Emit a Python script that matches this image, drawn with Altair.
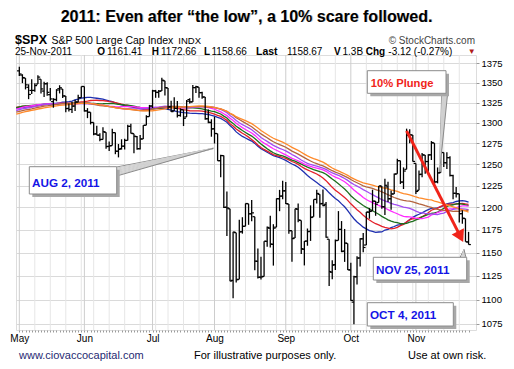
import altair as alt
import pandas as pd

# ---------------- data ----------------
# S&P 500 daily OHLC, 2 May 2011 .. 25 Nov 2011 (trading days)
opens = [1365.2,1359.8,1355.9,1344.2,1340.2,1340.2,1348.3,1354.5,1339.4,1348.7,1334.8,1326.1,1328.5,1342.4,1342.0,1333.1,1317.7,1316.4,1320.6,1325.7,1331.1,
         1345.2,1314.6,1312.9,1300.3,1286.3,1284.6,1279.6,1288.3,1271.3,1272.2,1287.9,1265.5,1268.6,1271.5,1278.4,1295.5,1286.6,1283.0,1268.4,1280.2,1296.9,1307.6,
         1320.6,1339.6,1337.6,1339.6,1352.4,1343.3,1319.6,1314.5,1317.7,1308.9,1315.9,1307.1,1328.7,1325.7,1343.8,1344.3,1337.4,1331.9,1304.8,1300.1,
         1292.6,1286.6,1254.3,1260.2,1200.3,1198.5,1120.2,1171.8,1121.3,1172.9,1178.9,1204.2,1192.9,1189.6,1140.5,1123.6,1124.4,1162.2,1176.7,1158.9,1177.9,1209.8,1213.0,
         1219.1,1203.9,1174.0,1165.9,1198.0,1185.4,1153.5,1162.6,1173.3,1189.4,1209.2,1215.0,1204.5,1203.6,1164.6,1128.8,1136.9,1163.3,1175.4,1151.7,1159.9,
         1131.2,1097.4,1124.0,1144.1,1165.0,1158.2,1194.6,1196.2,1207.0,1205.7,1224.5,1200.8,1223.5,1209.9,1215.4,1238.7,1254.2,1229.2,1244.0,1284.4,1285.0,
         1251.0,1219.6,1238.3,1260.8,1253.2,1261.1,1275.2,1229.6,1240.1,1263.9,1251.7,1257.8,1236.6,1216.2,1215.6,1193.0,1187.5,1161.4]
highs = [1370.6,1360.8,1355.9,1348.0,1354.4,1349.4,1359.4,1354.5,1351.1,1350.5,1343.3,1330.4,1341.8,1346.8,1342.0,1333.1,1323.7,1325.9,1328.5,1334.6,1345.2,
         1345.2,1318.0,1312.9,1300.3,1296.2,1287.0,1294.5,1288.3,1277.0,1292.5,1287.9,1274.1,1279.8,1280.4,1297.6,1298.6,1286.6,1283.9,1284.9,1296.8,1309.2,1322.0,
         1341.0,1340.9,1340.9,1356.5,1352.4,1343.3,1327.2,1331.5,1326.9,1317.7,1315.9,1328.1,1330.4,1347.0,1346.1,1344.3,1338.5,1331.9,1316.3,1304.2,
         1307.4,1286.6,1261.2,1260.2,1218.1,1198.5,1172.9,1171.8,1186.3,1189.0,1204.5,1204.2,1208.5,1189.6,1154.5,1145.5,1162.4,1178.6,1190.7,1181.2,1210.3,1220.1,1230.7,
         1229.3,1203.9,1174.0,1198.6,1204.4,1185.4,1162.5,1176.4,1202.4,1209.1,1220.1,1215.0,1220.4,1206.3,1164.6,1141.7,1164.2,1195.9,1184.7,1175.9,1159.9,
         1139.0,1125.1,1146.1,1165.6,1171.4,1194.9,1199.2,1220.3,1207.5,1224.6,1224.5,1233.1,1229.6,1219.4,1239.0,1256.6,1254.2,1246.3,1292.7,1292.0,1285.0,
         1251.0,1242.5,1263.2,1260.8,1261.7,1277.6,1275.2,1246.2,1267.0,1263.9,1264.3,1259.6,1237.7,1223.5,1215.6,1196.8,1187.5,1172.7]
lows = [1358.6,1349.5,1341.5,1329.2,1335.6,1338.6,1348.3,1336.4,1332.0,1333.4,1327.3,1318.5,1326.6,1336.4,1330.7,1312.9,1313.9,1311.8,1314.4,1325.7,1331.1,
        1313.7,1305.6,1297.9,1284.7,1284.7,1277.4,1279.6,1268.3,1265.6,1272.2,1261.9,1258.1,1267.4,1267.6,1278.4,1286.8,1262.9,1267.2,1267.5,1280.2,1296.9,1307.6,
        1318.2,1330.9,1330.9,1339.6,1333.7,1316.4,1313.3,1314.5,1306.5,1307.4,1295.9,1307.1,1323.7,1325.7,1337.0,1331.1,1329.6,1303.5,1299.2,1282.9,
        1274.7,1254.0,1234.6,1199.5,1168.1,1119.3,1101.5,1118.0,1121.3,1170.7,1178.9,1180.5,1184.4,1131.0,1122.1,1121.1,1124.4,1156.3,1155.5,1135.9,1177.9,1195.8,1209.4,
        1203.9,1170.6,1140.1,1165.9,1183.3,1148.4,1136.1,1157.4,1162.7,1189.4,1204.5,1188.4,1201.3,1166.2,1114.2,1121.4,1131.1,1163.3,1150.4,1139.9,1131.3,
        1098.9,1074.8,1115.7,1135.0,1150.3,1158.2,1187.3,1196.2,1190.6,1205.7,1198.6,1191.5,1206.3,1197.3,1215.4,1238.7,1226.8,1221.1,1244.0,1275.0,1253.2,
        1215.4,1219.6,1234.8,1238.9,1240.8,1255.0,1226.6,1227.7,1240.1,1246.7,1244.3,1235.7,1209.4,1211.4,1183.2,1181.7,1161.8,1158.7]
closes = [1361.2,1356.6,1347.3,1335.1,1340.2,1346.3,1357.2,1342.1,1348.7,1337.8,1329.5,1329.0,1340.7,1343.6,1333.3,1317.4,1316.3,1320.5,1325.7,1331.1,1345.2,
          1314.6,1312.9,1300.2,1286.2,1284.9,1279.6,1289.0,1271.0,1271.8,1287.9,1265.4,1267.6,1271.5,1278.4,1295.5,1287.1,1283.5,1268.5,1280.1,1296.7,1307.4,1320.6,
          1339.7,1337.9,1339.2,1353.2,1343.8,1319.5,1313.6,1317.7,1308.9,1316.1,1305.4,1326.7,1325.8,1343.8,1345.0,1337.4,1331.9,1304.9,1300.7,1292.3,
          1286.9,1254.1,1260.3,1200.1,1199.4,1119.5,1172.5,1120.8,1172.6,1178.8,1204.5,1192.8,1193.9,1140.7,1123.5,1123.8,1162.4,1177.6,1159.3,1176.8,1210.1,1212.9,1218.9,
          1204.4,1174.0,1165.2,1198.6,1185.9,1154.2,1162.3,1172.9,1188.7,1209.1,1216.0,1204.1,1202.1,1166.8,1129.6,1136.4,1163.0,1175.4,1151.1,1160.4,1131.4,
          1099.2,1124.0,1144.0,1165.0,1155.5,1194.9,1195.5,1207.3,1203.7,1224.6,1200.9,1225.4,1209.9,1215.4,1238.3,1254.2,1229.1,1242.0,1284.6,1285.1,1253.3,
          1218.3,1237.9,1261.2,1253.2,1261.1,1275.9,1229.1,1239.7,1263.9,1251.8,1257.8,1236.9,1216.1,1215.7,1193.0,1188.0,1161.8,1158.7]
# closes Jan-Apr 2011, only used to seed the moving averages
prior_closes = [1271.9,1270.2,1276.6,1273.9,1271.5,1269.8,1274.5,1286.0,1283.8,1293.2,1295.0,1281.9,1280.3,1283.4,1290.8,1291.2,1296.6,1299.5,1276.3,1286.1,
                1307.6,1304.0,1307.1,1310.9,1319.1,1324.6,1320.9,1321.9,1329.2,1332.3,1328.0,1336.3,1340.4,1343.0,1315.4,1307.4,1306.1,1319.9,1327.2,
                1306.3,1308.4,1331.0,1321.2,1310.1,1321.8,1320.0,1295.1,1304.3,1296.4,1281.9,1256.9,1273.7,1279.2,1298.4,1293.8,1297.5,1309.7,1313.8,1310.2,1319.4,1328.3,1325.8,
                1332.4,1332.9,1332.6,1335.5,1333.5,1328.2,1324.5,1314.2,1314.4,1314.5,1319.7,1305.1,1312.6,1330.4,1337.4,1335.3,1347.2,1355.7,1360.5,1363.6]
ma_lengths = [50, 55, 60, 65, 70, 75, 80]
ma_colors = ["#1f2fb0", "#e3202a", "#1d6e1d", "#ff2bff", "#a24cf2", "#b4643e", "#ff8a2a"]
y_ticks = [1075, 1100, 1125, 1150, 1175, 1200, 1225, 1250, 1275, 1300, 1325, 1350, 1375]
arrow_start = (125, 1290.0)
arrow_head = (142.4, 1167.4)

holidays = {"2011-05-30", "2011-07-04", "2011-09-05", "2011-11-24"}
dates = [d for d in pd.bdate_range("2011-05-02", "2011-11-25") if d.strftime("%Y-%m-%d") not in holidays]
n = len(closes)
dates = dates[:n]

month_idx, month_names, week_idx = [], [], []
for i, d in enumerate(dates):
    if i == 0 or d.month != dates[i - 1].month:
        month_idx.append(i)
        month_names.append(d.strftime("%b"))
    elif d.weekday() <= dates[i - 1].weekday():
        week_idx.append(i)

bars = pd.DataFrame({"idx": list(range(n)), "open": opens, "high": highs, "low": lows, "close": closes})
allc = prior_closes + closes
ma_df = pd.DataFrame({"idx": list(range(-len(prior_closes), n)), "close": allc})

# ---------------- scales / axes ----------------
W, H = 460, 275
xscale = alt.Scale(domain=[-1.07, 147.4], nice=False, zero=False)
yscale = alt.Scale(type="log", domain=[1068.9, 1385.8], nice=False, zero=False)
FONT = "Liberation Sans"
label_expr = f"indexof({month_idx}, datum.value) >= 0 ? {month_names}[indexof({month_idx}, datum.value)] : ''"
xaxis = alt.Axis(values=list(range(n)), labelExpr=label_expr, tickSize=2, tickColor="#9a9a9a",
                 grid=False, domain=False, labelFont=FONT, labelFontSize=10, labelColor="black",
                 labelPadding=1, labelOverlap=False, labelFlush=False, title=None)
yaxis = alt.Axis(orient="right", values=y_ticks, grid=True, gridColor="#dadada", tickSize=3,
                 tickColor="#9a9a9a", domain=False, labelFont=FONT, labelFontSize=9.5,
                 labelColor="black", labelPadding=2, format="d", title=None)

X = lambda f: alt.X(f, type="quantitative", scale=xscale, axis=xaxis)
Y = lambda f: alt.Y(f, type="quantitative", scale=yscale, axis=yaxis)

base_axes = alt.Chart(bars).mark_point(opacity=0, size=1).encode(x=X("idx"), y=Y("close"))
week_grid = alt.Chart(pd.DataFrame({"idx": week_idx})).mark_rule(color="#e6e6e6", strokeWidth=1).encode(x=X("idx"))
month_grid = alt.Chart(pd.DataFrame({"idx": month_idx})).mark_rule(color="#cdcdcd", strokeWidth=1).encode(x=X("idx"))

ma_names = [f"ma{L}" for L in ma_lengths]
ma_chart = alt.Chart(ma_df)
for L in ma_lengths:
    ma_chart = ma_chart.transform_window(**{f"ma{L}": "mean(close)"}, frame=[-(L - 1), 0],
                                         sort=[alt.SortField("idx")])
ma_lines = ma_chart.transform_filter(alt.datum.idx >= -1).transform_fold(
    ma_names, as_=["ma", "value"]).mark_line(strokeWidth=1.3, clip=True).encode(
    x=X("idx"), y=Y("value"),
    color=alt.Color("ma:N", scale=alt.Scale(domain=ma_names, range=ma_colors), legend=None))

hl = alt.Chart(bars).mark_rule(color="black", strokeWidth=1.3).encode(
    x=X("idx"), y=Y("low"), y2="high")
op = alt.Chart(bars).mark_rule(color="black", strokeWidth=1.2, xOffset=-2.3, x2Offset=0).encode(
    x=X("idx"), x2="idx", y=Y("open"))
cl = alt.Chart(bars).mark_rule(color="black", strokeWidth=1.2, xOffset=0, x2Offset=2.3).encode(
    x=X("idx"), x2="idx", y=Y("close"))

arrow_df = pd.DataFrame({"x": [arrow_start[0]], "y": [arrow_start[1]], "x2": [arrow_head[0]], "y2": [arrow_head[1]]})
arrow = alt.Chart(arrow_df).mark_rule(color="#f0241a", strokeWidth=3).encode(
    x=X("x"), y=Y("y"), x2="x2", y2="y2")
head = alt.Chart(arrow_df).mark_point(shape="triangle-down", filled=True, size=190, color="#f0241a",
                                      opacity=1, angle=333).encode(x=X("x2"), y=Y("y2"))

one = pd.DataFrame({"a": [0]})
OX, OY = 16, 55  # plot origin in page px


def txt(s, x, y, size, bold=False, color="black", align="left", font=FONT):
    # y is the text baseline in page px
    return alt.Chart(one).mark_text(text=s, align=align, baseline="alphabetic", fontSize=size,
                                    fontWeight="bold" if bold else "normal", color=color, font=font).encode(
        x=alt.value(x - OX), y=alt.value(y - OY))


def box(x1, y1, x2, y2):
    sh = alt.Chart(one).mark_rect(color="#a8a8a8").encode(
        x=alt.value(x1 - OX + 3), x2=alt.value(x2 - OX + 3), y=alt.value(y1 - OY + 3), y2=alt.value(y2 - OY + 3))
    bx = alt.Chart(one).mark_rect(fill="white", stroke="#8c8c8c", strokeWidth=1).encode(
        x=alt.value(x1 - OX), x2=alt.value(x2 - OX), y=alt.value(y1 - OY), y2=alt.value(y2 - OY))
    return [sh, bx]


def wedge(b1, b2, tip, steps=8):
    layers = []
    for k in range(steps + 1):
        t = k / steps
        bx = b1[0] + (b2[0] - b1[0]) * t
        by = b1[1] + (b2[1] - b1[1]) * t
        edge = k in (0, steps)
        layers.append(alt.Chart(one).mark_rule(color="#8a8a8a" if edge else "#d0d0d0",
                                               strokeWidth=1 if edge else 1.2).encode(
            x=alt.value(bx - OX), y=alt.value(by - OY), x2=alt.value(tip[0] - OX), y2=alt.value(tip[1] - OY)))
    return layers


BLUE = "#1414e6"
ann = []
ann += wedge((441.7, 93), (447.7, 93), (439.5, 172))
ann += box(367.3, 70.7, 446, 93.3)
ann.append(txt("10% Plunge", 370.7, 87.3, 11.2, True, "#f0241a"))
ann += wedge((116.7, 167), (116.7, 176), (213.3, 148.3))
ann += box(29.3, 166.7, 116.7, 194)
ann.append(txt("AUG 2, 2011", 32, 186.8, 11.7, True, BLUE))
ann += wedge((460, 257.5), (466, 257.5), (464, 249.5), steps=4)
ann += box(373.3, 257.3, 466.7, 280)
ann.append(txt("NOV 25, 2011", 376, 273.6, 11.7, True, BLUE))
ann += box(367.3, 302.7, 453.3, 326)
ann.append(txt("OCT 4, 2011", 370, 318.6, 11.7, True, BLUE))

TITLE = "2011:  Even after \u201cthe low\u201d, a 10% scare followed."
texts = [
    txt(TITLE, 247.3, 22.3, 16, True, "#c4c4c4", "center"),
    txt(TITLE, 246.5, 21.5, 16, True, "black", "center"),
    txt("$SPX", 15, 44.3, 12.5, True),
    txt("S&P 500 Large Cap Index", 51.5, 44.3, 10.5),
    txt("INDX", 178.3, 44.3, 9.5),
    txt("\u00a9 StockCharts.com", 475, 44.3, 10, False, "#444444", "right"),
    txt("25-Nov-2011", 15, 55, 10),
    txt("O", 97.3, 55, 10, True), txt("1161.41", 107, 55, 10),
    txt("H", 151.7, 55, 10, True), txt("1172.66", 161, 55, 10),
    txt("L", 204, 55, 10, True), txt("1158.66", 211.5, 55, 10),
    txt("Last", 256, 55, 10.5, True), txt("1158.67", 287, 55, 10),
    txt("V", 334, 55, 10, True), txt("1.3B", 342.5, 55, 10),
    txt("Chg", 365.7, 55, 10, True), txt("-3.12 (-0.27%)", 388.3, 55, 10),
    txt("\u25bc", 471.7, 54, 8, False, "#b01c1c", "center"),
    txt("www.ciovaccocapital.com", 19, 359, 11, False, "#1f2a72"),
    txt("For illustrative purposes only.", 194, 359, 11),
    txt("Use at own risk.", 408, 359, 11),
]

chart = alt.layer(base_axes, week_grid, month_grid, ma_lines, hl, op, cl, arrow, head, *ann, *texts).properties(
    width=W, height=H,
    autosize=alt.AutoSizeParams(type="none"),
    padding={"left": 8, "top": 47, "right": 30, "bottom": 31},
).configure_view(stroke="#9c9c9c", strokeWidth=1).configure(background="white")

chart.save("out.html", embed_options={"renderer": "svg", "actions": False})
